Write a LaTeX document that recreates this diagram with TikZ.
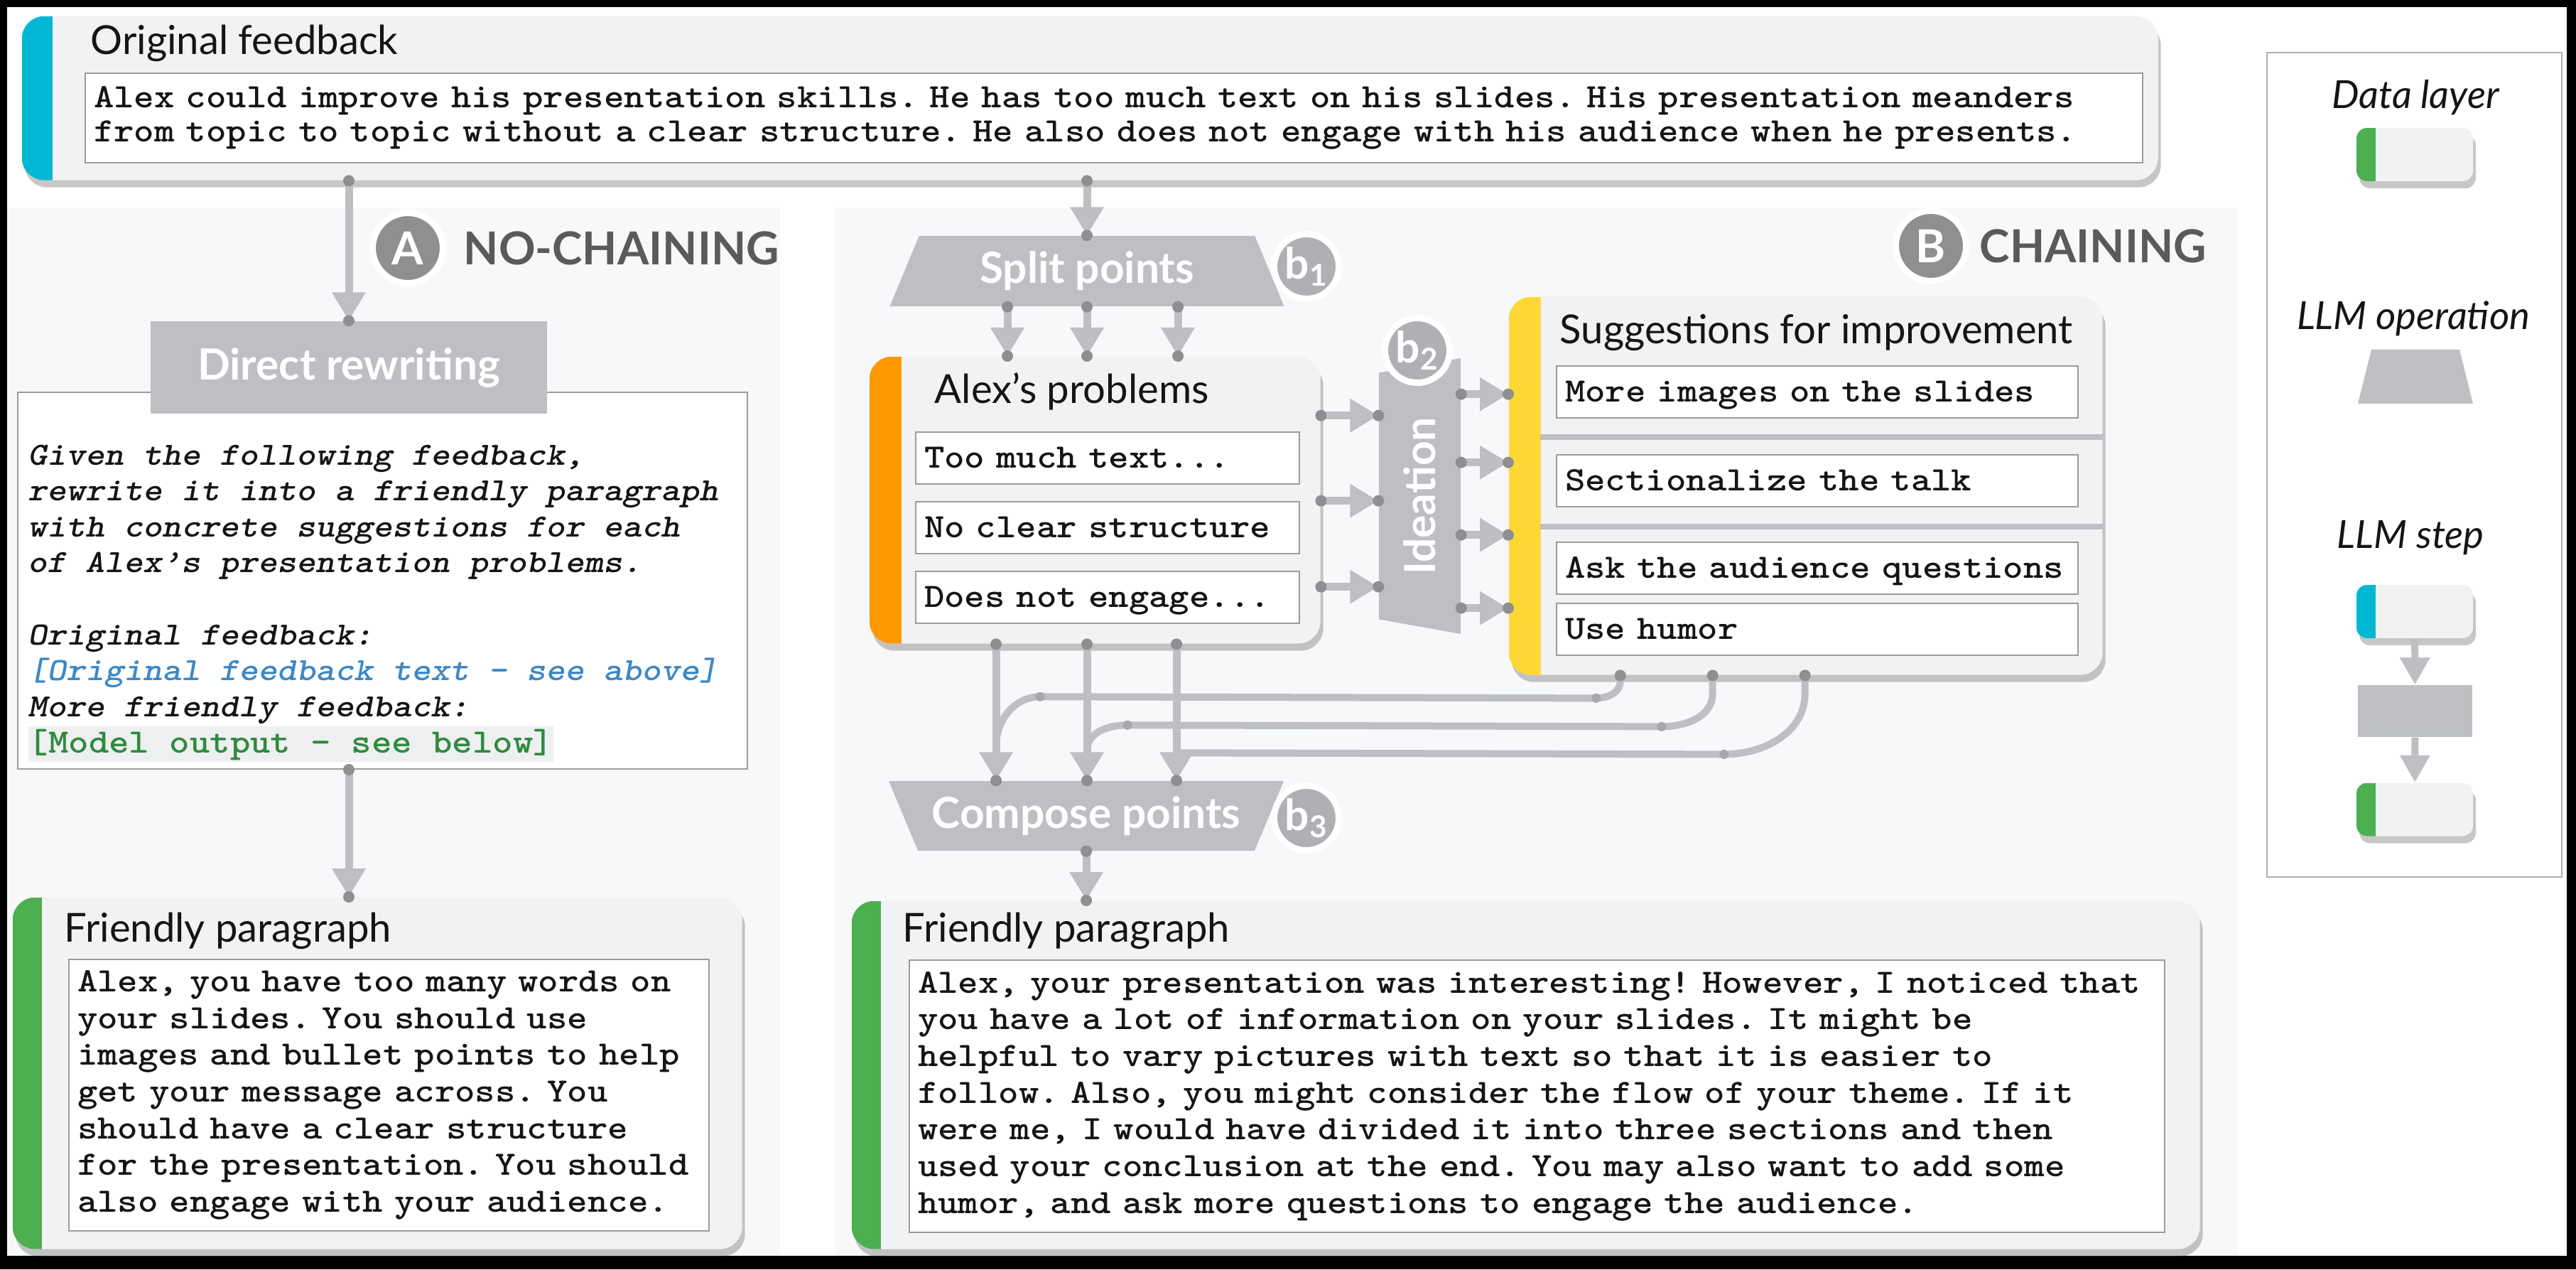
\documentclass[tikz,border=0pt]{standalone}
\usepackage{fontspec}
\setmainfont{Lato}
\setmonofont{lmmonolt10-bold.otf}[ItalicFont=lmmonolt10-boldoblique.otf, FakeStretch=1.125]
\usepackage{tikz}
\usetikzlibrary{arrows.meta,positioning,calc,shapes.geometric,shadows}
\frenchspacing
\definecolor{ink}{HTML}{151515}
\definecolor{boxfill}{HTML}{F1F2F3}
\definecolor{panel}{HTML}{F7F8F9}
\definecolor{opgray}{HTML}{BDBFC3}
\definecolor{pingray}{HTML}{8E8F91}
\definecolor{badgegray}{HTML}{8F8F8F}
\definecolor{subgray}{HTML}{AEB0B4}
\definecolor{headgray}{HTML}{5A5A5A}
\definecolor{rule}{HTML}{9C9C9C}
\definecolor{cyanbar}{HTML}{00B8D4}
\definecolor{greenbar}{HTML}{4CAF50}
\definecolor{orangebar}{HTML}{FF9800}
\definecolor{yellowbar}{HTML}{FDD835}
\definecolor{linkblue}{HTML}{3D88C5}
\definecolor{outgreen}{HTML}{2E8B3E}
\definecolor{hl}{HTML}{EEEFF0}
\newcommand{\ttlfont}{\fontsize{16}{19}\selectfont}
\newcommand{\opfnt}{\fontsize{17.2}{20}\selectfont\bfseries}
\newcommand{\headfnt}{\fontsize{18.2}{21}\selectfont\bfseries}
\newcommand{\legfnt}{\fontsize{15.5}{18}\selectfont\itshape}
\newcommand{\codefnt}[1]{\fontsize{13.7}{#1}\selectfont\ttfamily}
\newcommand{\flowline}[2]{\draw[flow] (#1) -- (#2); \fill[pin] (#1) circle (0.08) (#2) circle (0.08);}
\tikzset{
  databox/.style 2 args={rectangle, rounded corners=0.32cm, fill=boxfill, inner sep=0pt,
    drop shadow={shadow xshift=0.04cm, shadow yshift=-0.10cm, opacity=0.4, fill=black!55},
    path picture={\fill[#1, sharp corners] (path picture bounding box.south west) rectangle ([xshift=#2]path picture bounding box.north west);}},
  boxtitle/.style={anchor=base west, inner sep=0pt},
  textbox/.style={draw=rule, line width=0.02cm, fill=white, inner xsep=0.12cm, inner ysep=0pt, anchor=north west, align=left},
  itembox/.style={textbox, font=\codefnt{15}, text height=9.5pt, text depth=1.3pt, minimum height=0.73cm},
  opshape/.style={trapezium, trapezium stretches body=true, fill=opgray, text=white, font=\opfnt, inner xsep=0pt, inner ysep=0pt},
  opbox/.style={rectangle, fill=opgray, text=white, font=\opfnt, inner sep=0pt},
  badge/.style={circle, fill=#1, draw=white, line width=0.09cm, text=white, inner sep=0pt, minimum size=0.99cm, font=\headfnt},
  head/.style={anchor=west, font=\headfnt, text=headgray, inner sep=0pt},
  flow/.style={draw=opgray, line width=0.11cm, -{Triangle[length=0.40cm, width=0.45cm]}},
  link/.style={draw=opgray, line width=0.10cm},
  pin/.style={fill=pingray},
  joint/.style={fill=opgray!88!black},
  legtext/.style={font=\legfnt, inner sep=0pt},
  legarrow/.style={draw=opgray, line width=0.10cm, -{Triangle[length=0.38cm, width=0.40cm]}}
}

\begin{document}
\begin{tikzpicture}[font=\ttlfont, text=ink]
  % frame and the two panels
  \fill[black] (0,0) rectangle (36.26,17.86);
  \fill[white] (0.10,0.19) rectangle (36.13,17.76);
  \fill[panel] (0.10,0.19) rectangle (10.98,14.94);
  \fill[panel] (11.76,0.19) rectangle (31.50,14.94);

  % original feedback
  \node[databox={cyanbar}{0.43cm}, minimum width=30.07cm, minimum height=2.31cm, anchor=north west] (orig) at (0.30,17.64) {};
  \node[boxtitle] (origttl) at ([xshift=0.97cm,yshift=-0.55cm]orig.north west) {Original feedback};
  \node[textbox, font=\codefnt{13.7}, text width=28.72cm, minimum height=1.26cm] (origtxt) at (1.19,16.84)
    {Alex could improve his presentation skills. He has too much text on his slides. His presentation meanders\\
     from topic to topic without a clear structure. He also does not engage with his audience when he presents.};

  % A: no chaining
  \node[badge=badgegray] (bdga) at (5.74,14.37) {A};
  \node[head] (heada) at (6.52,14.37) {NO-CHAINING};
  \node[draw=rule, line width=0.02cm, fill=white, minimum width=10.27cm, minimum height=5.30cm, anchor=north west, inner sep=0pt] (prompt) at (0.24,12.35) {};
  \node[opbox, minimum width=5.58cm, minimum height=1.30cm] (drw) at (4.91,12.69) {Direct rewriting};
  \node[anchor=north west, align=left, inner sep=0pt, font=\fontsize{13}{14.4}\selectfont\ttfamily\itshape] (prompttxt) at (0.39,11.61)
    {Given the following feedback,\\
     rewrite it into a friendly paragraph\\
     with concrete suggestions for each\\
     of Alex’s presentation problems.\\[14.4pt]
     Original feedback:\\
     \textcolor{linkblue}{[Original feedback text — see above]}\\
     More friendly feedback:\\
     {\codefnt{14.4}\upshape\setlength{\fboxsep}{0pt}\colorbox{hl}{\textcolor{outgreen}{\rule[-3.8pt]{0pt}{14.4pt}[Model output — see below]}}}};
  \node[databox={greenbar}{0.41cm}, minimum width=10.27cm, minimum height=4.95cm, anchor=north west] (frienda) at (0.17,5.24) {};
  \node[boxtitle] (friendattl) at ([xshift=0.73cm,yshift=-0.63cm]frienda.north west) {Friendly paragraph};
  \node[textbox, font=\codefnt{14.7}, text width=8.77cm, minimum height=3.82cm] (friendatxt) at (0.96,4.37)
    {Alex, you have too many words on\\
     your slides. You should use\\
     images and bullet points to help\\
     get your message across. You\\
     should have a clear structure\\
     for the presentation. You should\\
     also engage with your audience.};
  \flowline{orig.south -| drw.north}{drw.north}
  \flowline{drw.center |- prompt.south}{drw.center |- frienda.north}

  % B: chaining
  \node[badge=badgegray] (bdgb) at (27.18,14.40) {B};
  \node[head] (headb) at (27.86,14.40) {CHAINING};

  \node[opshape, trapezium angle=53.2, minimum width=5.55cm, minimum height=0.99cm] (split) at (15.30,14.045) {Split points};
  \node[badge=subgray, minimum size=0.91cm, font=\opfnt] (bone) at (18.39,14.11) {b\textsubscript{1}};

  \node[databox={orangebar}{0.45cm}, minimum width=6.35cm, minimum height=4.04cm, anchor=north west] (probs) at (12.23,12.85) {};
  \node[boxtitle] (probsttl) at ([xshift=0.92cm,yshift=-0.67cm]probs.north west) {Alex’s problems};
  \node[itembox, text width=5.16cm] (pone) at (12.88,11.79) {Too much text...};
  \node[itembox, text width=5.16cm, below=0.23cm of pone] (ptwo) {No clear structure};
  \node[itembox, text width=5.16cm, below=0.23cm of ptwo] (pthree) {Does not engage...};

  \node[opshape, rotate=90, trapezium angle=65.7, minimum width=3.88cm, minimum height=1.15cm] (idea) at (19.985,10.88) {Ideation};
  \node[badge=subgray, minimum size=0.91cm, font=\opfnt] (btwo) at (19.95,12.93) {b\textsubscript{2}};

  \node[databox={yellowbar}{0.45cm}, minimum width=8.36cm, minimum height=5.32cm, anchor=north west] (sugg) at (21.23,13.69) {};
  \node[boxtitle] (suggttl) at ([xshift=0.72cm,yshift=-0.67cm]sugg.north west) {Suggestions for improvement};
  \fill[opgray] ($(sugg.west)+(0.45,0.73)$) rectangle ($(sugg.east)+(0,0.65)$);
  \fill[opgray] ($(sugg.west)+(0.45,-0.53)$) rectangle ($(sugg.east)+(0,-0.61)$);
  \node[itembox, text width=7.10cm] (sone) at (21.90,12.72) {More images on the slides};
  \node[itembox, text width=7.10cm] (stwo) at (21.90,11.47) {Sectionalize the talk};
  \node[itembox, text width=7.10cm] (sthree) at (21.90,10.24) {Ask the audience questions};
  \node[itembox, text width=7.10cm, below=0.11cm of sthree] (sfour) {Use humor};

  \node[opshape, trapezium angle=126.8, minimum width=5.56cm, minimum height=0.98cm, inner xsep=-0.4cm] (comp) at (15.29,6.38) {Compose points};
  \node[badge=subgray, minimum size=0.91cm, font=\opfnt] (bthree) at (18.39,6.35) {b\textsubscript{3}};

  \node[databox={greenbar}{0.41cm}, minimum width=18.98cm, minimum height=4.90cm, anchor=north west] (friendb) at (11.98,5.19) {};
  \node[boxtitle] (friendbttl) at ([xshift=0.72cm,yshift=-0.58cm]friendb.north west) {Friendly paragraph};
  \node[textbox, font=\codefnt{14.7}, text width=17.43cm, minimum height=3.83cm] (friendbtxt) at (12.79,4.36)
    {Alex, your presentation was interesting! However, I noticed that\\
     you have a lot of information on your slides. It might be\\
     helpful to vary pictures with text so that it is easier to\\
     follow. Also, you might consider the flow of your theme. If it\\
     were me, I would have divided it into three sections and then\\
     used your conclusion at the end. You may also want to add some\\
     humor, and ask more questions to engage the audience.};

  % chain connectors
  \flowline{orig.south -| split.north}{split.north}
  \foreach \dx in {-1.12,0,1.28}
    {\flowline{$(split.south)+(\dx,0)$}{$(split.south |- probs.north)+(\dx,0)$}}
  \foreach \dy in {1.19,-0.01,-1.22}
    {\flowline{$(probs.east)+(0,\dy)$}{$(probs.east -| idea.north)+(0,\dy)$}}
  \foreach \dy in {1.29,0.33,-0.69,-1.72}
    {\flowline{$(sugg.west -| idea.south)+(0,\dy)$}{$(sugg.west)+(0,\dy)$}}
  \foreach \dx in {-1.27,0.01,1.27}
    {\flowline{$(comp.north |- probs.south)+(\dx,0)$}{$(comp.north)+(\dx,0)$}}
  \draw[link] ($(sugg.south)+(-2.61,0)$) coordinate (sa) -- ++(0,-0.08) to[out=-90,in=0] ++(-0.34,-0.24) coordinate (ja)
    -- ($(comp.north)+(-0.65,1.18)$) coordinate (jb) to[out=180,in=90] ($(comp.north)+(-1.27,0.48)$);
  \draw[link] ($(sugg.south)+(-1.31,0)$) coordinate (sb) -- ++(0,-0.25) to[out=-90,in=0] ++(-0.72,-0.47) coordinate (jc)
    -- ($(comp.north)+(0.58,0.78)$) coordinate (jd) to[out=180,in=90] ($(comp.north)+(0.01,0.42)$);
  \draw[link] ($(sugg.south)+(-0.01,0)$) coordinate (sc) -- ++(0,-0.25) to[out=-90,in=0] ++(-1.14,-0.86) coordinate (je)
    -- ($(comp.north)+(1.27,0.39)$);
  \foreach \j in {ja,jb,jc,jd,je} \fill[joint] (\j) circle (0.065);
  \foreach \s in {sa,sb,sc} \fill[pin] (\s) circle (0.08);
  \flowline{comp.south}{comp.south |- friendb.north}

  % legend
  \node[draw=rule!80, line width=0.02cm, fill=white, minimum width=4.15cm, minimum height=11.60cm, anchor=north west, inner sep=0pt] (legend) at (31.90,17.13) {};
  \node[legtext] (legdata) at (34.00,16.49) {Data layer};
  \node[databox={greenbar}{0.27cm}, rounded corners=0.15cm, minimum width=1.64cm, minimum height=0.75cm] (legdatabox) at (33.99,15.685) {};
  \node[legtext] (legop) at (33.97,13.38) {LLM operation};
  \node[opshape, trapezium angle=76, inner ysep=0.38cm, minimum width=1.62cm, minimum height=0.76cm] (legtrap) at (34.00,12.56) {};
  \node[legtext] (legstep) at (33.93,10.29) {LLM step};
  \node[databox={cyanbar}{0.27cm}, rounded corners=0.15cm, minimum width=1.64cm, minimum height=0.75cm] (legin) at (33.99,9.255) {};
  \node[opbox, minimum width=1.61cm, minimum height=0.73cm] (legrect) at (33.995,7.855) {};
  \node[databox={greenbar}{0.27cm}, rounded corners=0.15cm, minimum width=1.64cm, minimum height=0.75cm] (legout) at (33.99,6.47) {};
  \draw[legarrow] (legin) -- (legrect);
  \draw[legarrow] (legrect) -- (legout);
\end{tikzpicture}
\end{document}
